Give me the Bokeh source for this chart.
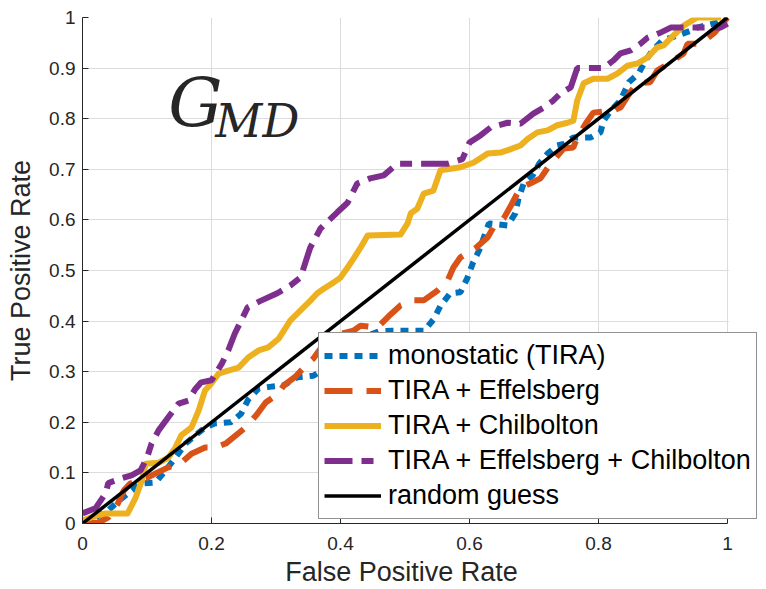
from bokeh.plotting import figure
from bokeh.models import Range1d, Legend, LegendItem, Label, FixedTicker, BoxAnnotation
from bokeh.embed import file_html
from bokeh.resources import INLINE

# ---- data ----
mono_x = [0, 0.02, 0.04, 0.056, 0.076, 0.09, 0.113, 0.129, 0.144, 0.16, 0.175, 0.19, 0.206, 0.23, 0.246,
          0.257, 0.273, 0.29, 0.312, 0.333, 0.358, 0.38, 0.40, 0.42, 0.44, 0.46, 0.48, 0.53, 0.544, 0.555,
          0.57, 0.586, 0.597, 0.605, 0.615, 0.63, 0.659, 0.671, 0.676, 0.684, 0.698, 0.708, 0.721, 0.736,
          0.746, 0.761, 0.788, 0.803, 0.808, 0.819, 0.834, 0.847, 0.862, 0.873, 0.884, 0.899, 0.922, 0.943,
          0.953, 0.984, 1.0]
mono_y = [0.0, 0.012, 0.026, 0.045, 0.065, 0.079, 0.081, 0.105, 0.13, 0.158, 0.174, 0.19, 0.198, 0.2, 0.217,
          0.245, 0.267, 0.27, 0.273, 0.289, 0.292, 0.31, 0.33, 0.35, 0.37, 0.38, 0.381, 0.381, 0.403, 0.43,
          0.455, 0.457, 0.486, 0.514, 0.54, 0.593, 0.589, 0.613, 0.642, 0.672, 0.688, 0.711, 0.731, 0.747,
          0.75, 0.763, 0.763, 0.773, 0.796, 0.816, 0.836, 0.872, 0.889, 0.915, 0.935, 0.955, 0.964, 0.974,
          0.98, 0.99, 1.0]

eff_x = [0, 0.025, 0.04, 0.055, 0.064, 0.074, 0.087, 0.1, 0.115, 0.133, 0.153, 0.169, 0.19, 0.205, 0.222,
         0.253, 0.27, 0.284, 0.304, 0.312, 0.33, 0.349, 0.358, 0.38, 0.40, 0.42, 0.431, 0.457, 0.475, 0.493,
         0.513, 0.529, 0.55, 0.566, 0.575, 0.586, 0.61, 0.628, 0.637, 0.653, 0.665, 0.679, 0.694, 0.71, 0.725,
         0.746, 0.761, 0.767, 0.78, 0.792, 0.823, 0.834, 0.848, 0.86, 0.88, 0.891, 0.91, 0.932, 0.938, 0.958,
         0.98, 1.0]
eff_y = [0.0, 0.002, 0.012, 0.04, 0.065, 0.079, 0.085, 0.09, 0.1, 0.111, 0.12, 0.138, 0.15, 0.15, 0.158,
         0.19, 0.215, 0.239, 0.257, 0.273, 0.29, 0.316, 0.326, 0.365, 0.375, 0.381, 0.391, 0.387, 0.41, 0.431,
         0.441, 0.441, 0.46, 0.48, 0.506, 0.526, 0.545, 0.565, 0.585, 0.603, 0.63, 0.664, 0.672, 0.682, 0.71,
         0.741, 0.743, 0.763, 0.79, 0.812, 0.816, 0.822, 0.85, 0.87, 0.872, 0.895, 0.91, 0.929, 0.948, 0.948,
         0.97, 1.0]

chil_x = [0, 0.02, 0.036, 0.07, 0.082, 0.092, 0.098, 0.118, 0.133, 0.144, 0.153, 0.169, 0.18, 0.19, 0.2,
          0.211, 0.226, 0.242, 0.257, 0.273, 0.288, 0.304, 0.322, 0.338, 0.353, 0.364, 0.374, 0.389, 0.4,
          0.411, 0.42, 0.431, 0.442, 0.493, 0.504, 0.509, 0.519, 0.529, 0.544, 0.555, 0.566, 0.586, 0.606,
          0.628, 0.648, 0.664, 0.679, 0.69, 0.705, 0.721, 0.736, 0.752, 0.761, 0.767, 0.777, 0.792, 0.814,
          0.829, 0.845, 0.86, 0.876, 0.891, 0.901, 0.916, 0.932, 0.953, 0.99]
chil_y = [0.006, 0.015, 0.02, 0.02, 0.05, 0.085, 0.118, 0.12, 0.13, 0.15, 0.174, 0.19, 0.223, 0.263, 0.277,
          0.296, 0.302, 0.308, 0.328, 0.342, 0.348, 0.365, 0.401, 0.421, 0.44, 0.455, 0.464, 0.476, 0.486,
          0.506, 0.523, 0.545, 0.569, 0.571, 0.593, 0.613, 0.622, 0.652, 0.658, 0.698, 0.70, 0.704, 0.713,
          0.731, 0.733, 0.74, 0.747, 0.76, 0.773, 0.777, 0.787, 0.792, 0.796, 0.836, 0.87, 0.879, 0.879,
          0.889, 0.905, 0.909, 0.921, 0.941, 0.945, 0.964, 0.984, 1.0, 1.0]

all_x = [0, 0.02, 0.036, 0.04, 0.06, 0.076, 0.09, 0.1, 0.107, 0.118, 0.133, 0.149, 0.164, 0.175, 0.184, 0.2,
         0.216, 0.226, 0.236, 0.256, 0.276, 0.302, 0.322, 0.338, 0.353, 0.369, 0.395, 0.411, 0.426, 0.446,
         0.467, 0.488, 0.504, 0.566, 0.589, 0.60, 0.617, 0.633, 0.659, 0.679, 0.699, 0.715, 0.73, 0.741,
         0.757, 0.767, 0.808, 0.823, 0.834, 0.85, 0.865, 0.876, 0.896, 0.912, 0.989, 1.0]
all_y = [0.02, 0.03, 0.06, 0.08, 0.089, 0.095, 0.105, 0.13, 0.158, 0.184, 0.21, 0.237, 0.243, 0.266, 0.279,
         0.283, 0.316, 0.342, 0.375, 0.427, 0.44, 0.455, 0.47, 0.486, 0.545, 0.583, 0.615, 0.634, 0.672,
         0.682, 0.688, 0.711, 0.711, 0.711, 0.72, 0.753, 0.767, 0.783, 0.792, 0.79, 0.81, 0.822, 0.836, 0.85,
         0.862, 0.9, 0.9, 0.915, 0.929, 0.935, 0.948, 0.96, 0.97, 0.98, 0.98, 0.988]

guess_x = [0, 1]
guess_y = [0, 1]

x_ticks = [0, 0.2, 0.4, 0.6, 0.8, 1]
x_tick_labels = ["0", "0.2", "0.4", "0.6", "0.8", "1"]
y_ticks = [0, 0.1, 0.2, 0.3, 0.4, 0.5, 0.6, 0.7, 0.8, 0.9, 1]
y_tick_labels = ["0", "0.1", "0.2", "0.3", "0.4", "0.5", "0.6", "0.7", "0.8", "0.9", "1"]

series_names = ["monostatic (TIRA)", "TIRA + Effelsberg", "TIRA + Chilbolton",
                "TIRA + Effelsberg + Chilbolton", "random guess"]
x_title = "False Positive Rate"
y_title = "True Positive Rate"

assert len(mono_x) == len(mono_y)
assert len(eff_x) == len(eff_y)
assert len(chil_x) == len(chil_y)
assert len(all_x) == len(all_y)

AX = "#262626"
FONT = "Liberation Sans"

# layout: axes box 0..1 spans 645 px; the frame is widened to the right so the
# legend (which overhangs the axes box in the reference) is not clipped.
LEFT, RIGHT_PAD, TOP, BOTTOM = 82, 3, 17, 66
AXES_PX = 645
x_end = (766 - LEFT - RIGHT_PAD) / AXES_PX

p = figure(width=766, height=589, output_backend="svg", toolbar_location=None,
           x_range=Range1d(0, x_end), y_range=Range1d(0, 1),
           min_border_left=LEFT, min_border_right=RIGHT_PAD, min_border_top=TOP, min_border_bottom=BOTTOM)
p.outline_line_color = None
p.background_fill_color = "white"
p.border_fill_color = "white"

for ax, ticks, labels in ((p.xaxis[0], x_ticks, x_tick_labels), (p.yaxis[0], y_ticks, y_tick_labels)):
    ax.ticker = FixedTicker(ticks=ticks)
    ax.major_label_overrides = {t: l for t, l in zip(ticks, labels)}
    ax.major_tick_in = 6
    ax.major_tick_out = 0
    ax.minor_tick_line_color = None
    ax.axis_line_color = AX
    ax.major_tick_line_color = AX
    ax.major_label_text_font = FONT
    ax.major_label_text_font_size = "19px"
    ax.major_label_text_color = AX
    ax.axis_label_text_font = FONT
    ax.axis_label_text_font_size = "27px"
    ax.axis_label_text_font_style = "normal"
    ax.axis_label_text_color = AX

p.xaxis.bounds = (0, 1)
# the axis title is centred on the (widened) frame; trailing no-break spaces
# shift it back so it sits centred under the 0..1 axes box
p.xaxis.axis_label = x_title + "\u00a0" * 5 + "\u2009"
p.yaxis.axis_label = y_title
p.xaxis.major_label_standoff = 13
p.xaxis.axis_label_standoff = 4
p.yaxis.major_label_standoff = 7
p.yaxis.axis_label_standoff = 10

p.xgrid.ticker = FixedTicker(ticks=x_ticks)
p.ygrid.ticker = FixedTicker(ticks=y_ticks)
p.grid.grid_line_color = "#dcdcdc"
p.grid.grid_line_width = 1

# hide the grid outside the axes box (x > 1)
p.add_layout(BoxAnnotation(left=1.002, fill_color="white", fill_alpha=1.0, line_color=None, level="underlay"))

r1 = p.line(mono_x, mono_y, line_color="#0072BD", line_width=6, line_dash="8 7")
r2 = p.line(eff_x, eff_y, line_color="#D95319", line_width=6, line_dash="28 14")
r3 = p.line(chil_x, chil_y, line_color="#EDB120", line_width=6, line_join="round")
r4 = p.line(all_x, all_y, line_color="#7E2F8E", line_width=6, line_dash="28 9 12 9")
r5 = p.line(guess_x, guess_y, line_color="black", line_width=3.5)

legend = Legend(items=[LegendItem(label=n, renderers=[r]) for n, r in
                       zip(series_names, [r1, r2, r3, r4, r5])],
                location=(236, 4))
legend.label_text_font = FONT
legend.label_text_font_size = "27px"
legend.label_text_color = "black"
legend.glyph_width = 57
legend.glyph_height = 35
legend.label_height = 35
legend.label_standoff = 7
legend.spacing = 0
legend.padding = 5
legend.margin = 0
legend.border_line_color = AX
legend.border_line_width = 1
legend.background_fill_color = "white"
legend.background_fill_alpha = 1.0
p.add_layout(legend, "center")

p.add_layout(Label(x=0.133, y=0.832, text="G", text_font="DejaVu Serif", text_font_style="italic",
                   text_font_size="68px", text_color="#262626", text_baseline="alphabetic"))
p.add_layout(Label(x=0.206, y=0.796, text="MD", text_font="DejaVu Serif", text_font_style="italic",
                   text_font_size="46px", text_color="#262626", text_baseline="alphabetic"))

open("out.html", "w").write(file_html(p, INLINE))
